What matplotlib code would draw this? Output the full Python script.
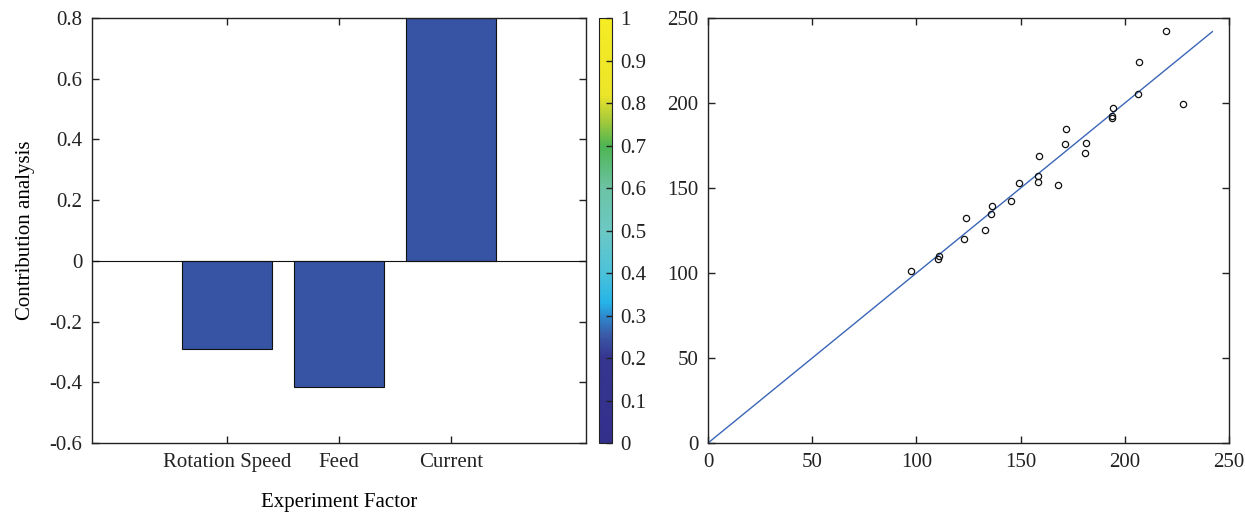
import matplotlib
matplotlib.use("Agg")
import matplotlib.pyplot as plt
import numpy as np
from matplotlib.colors import LinearSegmentedColormap
from matplotlib.cm import ScalarMappable
from matplotlib.colors import Normalize

plt.rcParams["font.family"] = ["Liberation Serif", "DejaVu Serif"]
plt.rcParams["font.size"] = 15

# left panel: contribution of each experiment factor
factors = ["Rotation Speed", "Feed", "Current"]
contribution = [-0.29, -0.415, 0.80]
bar_pos = [1, 2, 3]

# right panel: measured vs predicted
meas_x = [219.6, 206.8, 206.4, 228.1, 194.1, 193.6, 193.7, 171.7, 171.2, 181.2,
          180.7, 158.9, 158.5, 158.2, 167.9, 149.2, 145.5, 136.4, 136.0, 132.7,
          123.7, 123.0, 110.7, 110.3, 97.5]
pred_y = [242.4, 224.1, 205.1, 199.2, 197.3, 192.4, 191.4, 184.5, 175.7, 176.3,
          170.8, 168.6, 157.3, 153.5, 151.6, 152.7, 142.4, 139.4, 134.7, 125.1,
          132.5, 120.0, 110.0, 108.0, 101.4]
ref_line = [0, 242]

cbar_ticks = [0, 0.1, 0.2, 0.3, 0.4, 0.5, 0.6, 0.7, 0.8, 0.9, 1]
cbar_labels = ["0", "0.1", "0.2", "0.3", "0.4", "0.5", "0.6", "0.7", "0.8", "0.9", "1"]

BAR_COLOR = "#3753a3"
LINE_COLOR = "#3a66b8"
SPINE = "#222222"

cmap = LinearSegmentedColormap.from_list("parula_like", [
    (0.0, "#33308c"), (0.2, "#35358f"), (0.25, "#3a58a6"), (0.30, "#2d8ccf"),
    (0.33, "#25b4e8"), (0.40, "#4cc2da"), (0.50, "#6cc8c4"), (0.60, "#6cc3a4"),
    (0.70, "#4db552"), (0.76, "#a6ca3a"), (0.82, "#ece52a"), (1.0, "#f5ec24"),
])


def style_axes(ax):
    for s in ax.spines.values():
        s.set_color(SPINE)
        s.set_linewidth(1.0)
    ax.tick_params(direction="in", length=5, width=1, top=True, right=True,
                   colors=SPINE, labelcolor="#222222", pad=7)


fig = plt.figure(figsize=(12.45, 5.15), dpi=100)

ax1 = fig.add_axes([0.0739, 0.1398, 0.3968, 0.8252])
ax1.bar(bar_pos, contribution, width=0.8, color=BAR_COLOR, edgecolor="#111111",
        linewidth=0.8, zorder=2)
ax1.axhline(0, color="#111111", linewidth=0.8, zorder=3)
ax1.set_xlim(-0.2, 4.2)
ax1.set_ylim(-0.6, 0.8)
ax1.set_xticks(bar_pos)
ax1.set_xticklabels(factors)
ax1.set_yticks(np.arange(-0.6, 0.81, 0.2))
ax1.set_yticklabels(["-0.6", "-0.4", "-0.2", "0", "0.2", "0.4", "0.6", "0.8"])
ax1.set_ylabel("Contribution analysis", labelpad=10)
ax1.set_xlabel("Experiment Factor", labelpad=15)
style_axes(ax1)

cax = fig.add_axes([0.4811, 0.1398, 0.0104, 0.8252])
sm = ScalarMappable(norm=Normalize(0, 1), cmap=cmap)
cb = fig.colorbar(sm, cax=cax, ticks=cbar_ticks)
cb.ax.set_yticklabels(cbar_labels)
cb.outline.set_edgecolor(SPINE)
cb.outline.set_linewidth(0.8)
cb.ax.tick_params(direction="in", length=4, width=1, colors=SPINE, pad=6)

ax2 = fig.add_axes([0.5687, 0.1398, 0.4185, 0.8252])
ax2.plot(ref_line, ref_line, color=LINE_COLOR, linewidth=1.0, zorder=2)
ax2.plot(meas_x, pred_y, linestyle="none", marker="o", markersize=4.5,
         markerfacecolor="none", markeredgecolor="#111111", markeredgewidth=0.9,
         zorder=3)
ax2.set_xlim(0, 250)
ax2.set_ylim(0, 250)
ax2.set_xticks(np.arange(0, 251, 50))
ax2.set_yticks(np.arange(0, 251, 50))
style_axes(ax2)

fig.savefig("out.png", dpi=100)
